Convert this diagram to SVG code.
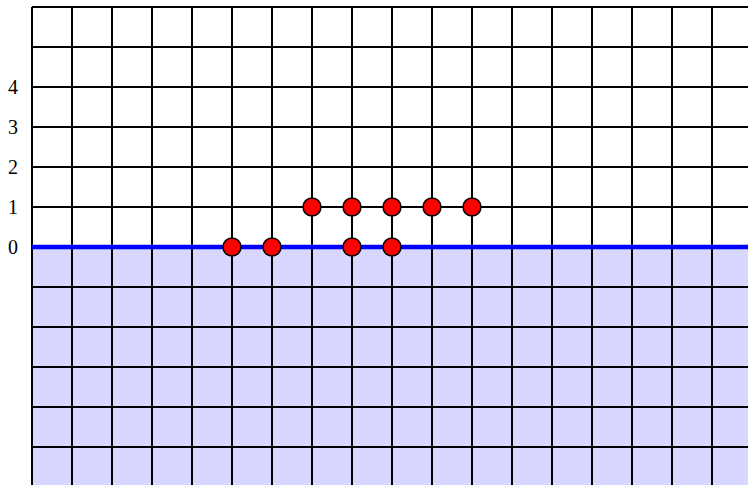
<svg xmlns="http://www.w3.org/2000/svg" width="748" height="485" viewBox="0 0 748 485">
<style>
.g{stroke:#000;stroke-width:2;fill:none}
.lbl{font-family:"Liberation Serif",serif;font-size:20px;fill:#000;text-anchor:middle}
.pt{fill:#ff0000;stroke:#000;stroke-width:1.5}
</style>
<rect width="748" height="485" fill="#fff"/>
<rect x="32" y="247" width="716" height="238" fill="#d7d7ff"/>
<g id="grid" class="g">
<path d="M32 7V485M72 7V485M112 7V485M152 7V485M192 7V485M232 7V485M272 7V485M312 7V485M352 7V485M392 7V485M432 7V485M472 7V485M512 7V485M552 7V485M592 7V485M632 7V485M672 7V485M712 7V485"/>
<path d="M32 7H748M32 47H748M32 87H748M32 127H748M32 167H748M32 207H748M32 287H748M32 327H748M32 367H748M32 407H748M32 447H748"/>
</g>
<line id="ground" x1="32" y1="247" x2="748" y2="247" stroke="#0000ff" stroke-width="4.5"/>
<g id="labels">
<text class="lbl" x="13" y="94">4</text>
<text class="lbl" x="13" y="134">3</text>
<text class="lbl" x="13" y="174">2</text>
<text class="lbl" x="13" y="214">1</text>
<text class="lbl" x="13" y="254">0</text>
</g>
<g id="points">
<circle class="pt" cx="232" cy="247" r="9"/>
<circle class="pt" cx="272" cy="247" r="9"/>
<circle class="pt" cx="352" cy="247" r="9"/>
<circle class="pt" cx="392" cy="247" r="9"/>
<circle class="pt" cx="312" cy="207" r="9"/>
<circle class="pt" cx="352" cy="207" r="9"/>
<circle class="pt" cx="392" cy="207" r="9"/>
<circle class="pt" cx="432" cy="207" r="9"/>
<circle class="pt" cx="472" cy="207" r="9"/>
</g>
</svg>
